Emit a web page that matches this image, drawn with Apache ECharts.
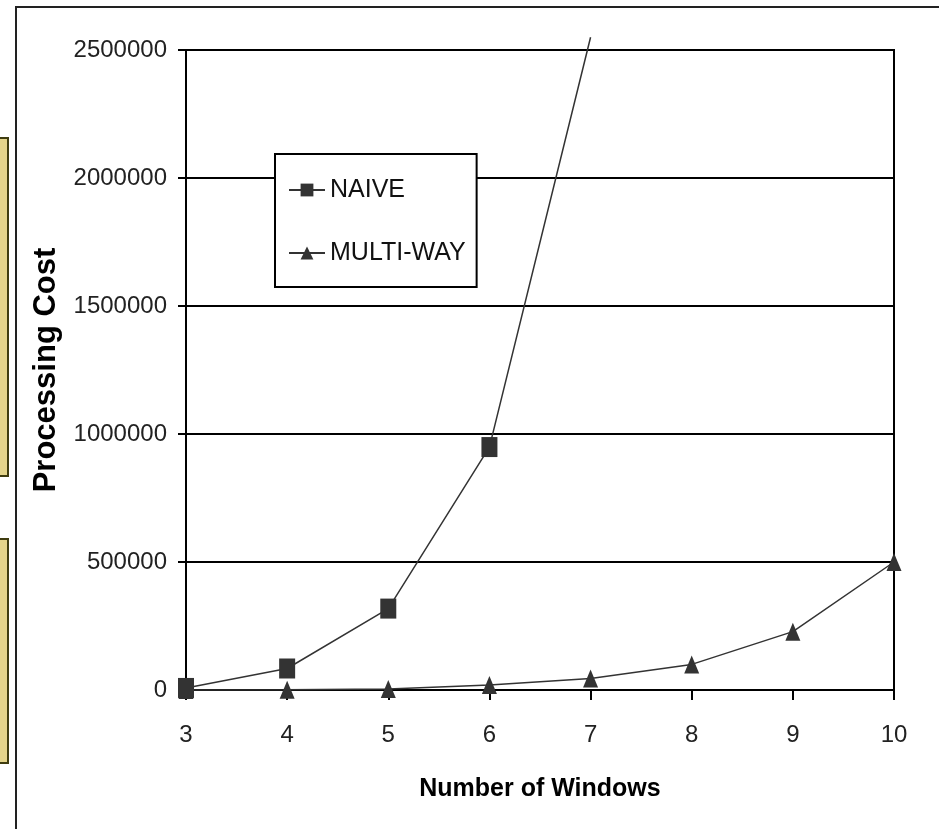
<!DOCTYPE html>
<html>
<head>
<meta charset="utf-8">
<style>
html,body{margin:0;padding:0;background:#fff;}
#chart{width:939px;height:829px;}
</style>
<script src="https://cdn.jsdelivr.net/npm/echarts@6/dist/echarts.min.js"></script>
</head>
<body>
<div id="chart"></div>
<script>
var windows = [3, 4, 5, 6, 7, 8, 9, 10];
var naiveX = [3, 4, 5, 6, 7];
var naiveValues = [8000, 84000, 318000, 949000, 2550000];
var multiWayValues = [0, 1000, 4000, 20000, 45000, 100000, 228000, 500000];
var yTicks = [0, 500000, 1000000, 1500000, 2000000, 2500000];
var seriesNames = ['NAIVE', 'MULTI-WAY'];

var SANS = '"Liberation Sans", Arial, sans-serif';

var naiveData = naiveX.map(function (x, i) {
  var item = { value: [x, naiveValues[i]] };
  if (naiveValues[i] > yTicks[yTicks.length - 1]) { item.symbol = 'none'; }
  return item;
});
var multiData = windows.map(function (x, i) { return [x, multiWayValues[i]]; });

var chart = echarts.init(document.getElementById('chart'), null, { renderer: 'canvas' });
chart.setOption({
  backgroundColor: '#ffffff',
  animation: false,
  graphic: [
    { type: 'rect', z: 0, shape: { x: 16, y: 7, width: 1000, height: 1000 },
      style: { fill: 'none', stroke: '#222', lineWidth: 2 } },
    { type: 'rect', z: 0, shape: { x: -10, y: 138, width: 18, height: 338 },
      style: { fill: '#e4d48b', stroke: '#3f3c10', lineWidth: 2 } },
    { type: 'rect', z: 0, shape: { x: -10, y: 539, width: 18, height: 224 },
      style: { fill: '#e4d48b', stroke: '#3f3c10', lineWidth: 2 } }
  ],
  grid: {
    left: 186, right: 45, top: 50, bottom: 139,
    outerBoundsMode: 'none',
    containLabel: false,
    show: true, borderColor: '#000', borderWidth: 2, backgroundColor: 'transparent'
  },
  legend: {
    orient: 'vertical',
    left: 275, top: 154,
    padding: [21, 11, 19, 13],
    itemGap: 33,
    itemWidth: 36, itemHeight: 16,
    backgroundColor: '#fff',
    borderColor: '#000', borderWidth: 2, borderRadius: 0,
    data: seriesNames,
    textStyle: { fontFamily: SANS, fontSize: 25, color: '#111', lineHeight: 30 }
  },
  xAxis: {
    type: 'value',
    min: 3, max: 10, interval: 1,
    name: 'Number of Windows',
    nameLocation: 'middle',
    nameGap: 84,
    nameTextStyle: { fontFamily: SANS, fontSize: 25, fontWeight: 'bold', color: '#000', lineHeight: 30 },
    axisLine: { show: true, lineStyle: { color: '#000', width: 2 } },
    axisTick: { show: true, inside: false, length: 10, lineStyle: { color: '#000', width: 2 } },
    axisLabel: { margin: 33, fontFamily: SANS, fontSize: 24, color: '#222', lineHeight: 24 },
    splitLine: { show: false }
  },
  yAxis: {
    type: 'value',
    min: 0, max: 2500000, interval: 500000,
    name: 'Processing Cost',
    nameLocation: 'middle',
    nameGap: 124,
    nameTextStyle: { fontFamily: SANS, fontSize: 31, fontWeight: 'bold', color: '#000' },
    axisLine: { show: true, lineStyle: { color: '#000', width: 2 } },
    axisTick: { show: true, inside: false, length: 8, lineStyle: { color: '#000', width: 2 } },
    axisLabel: { margin: 19, fontFamily: SANS, fontSize: 24, color: '#222',
      formatter: function (v) { return String(v); } },
    splitLine: { show: true, lineStyle: { color: '#000', width: 2 } }
  },
  series: [
    {
      name: seriesNames[0], type: 'line', data: naiveData,
      clip: false,
      symbol: 'rect', symbolSize: [16, 20],
      lineStyle: { color: '#333', width: 1.5 },
      itemStyle: { color: '#333' },
      z: 3
    },
    {
      name: seriesNames[1], type: 'line', data: multiData,
      clip: false,
      symbol: 'triangle', symbolSize: [15, 18],
      lineStyle: { color: '#333', width: 1.5 },
      itemStyle: { color: '#333' },
      z: 2
    }
  ]
});
</script>
</body>
</html>
